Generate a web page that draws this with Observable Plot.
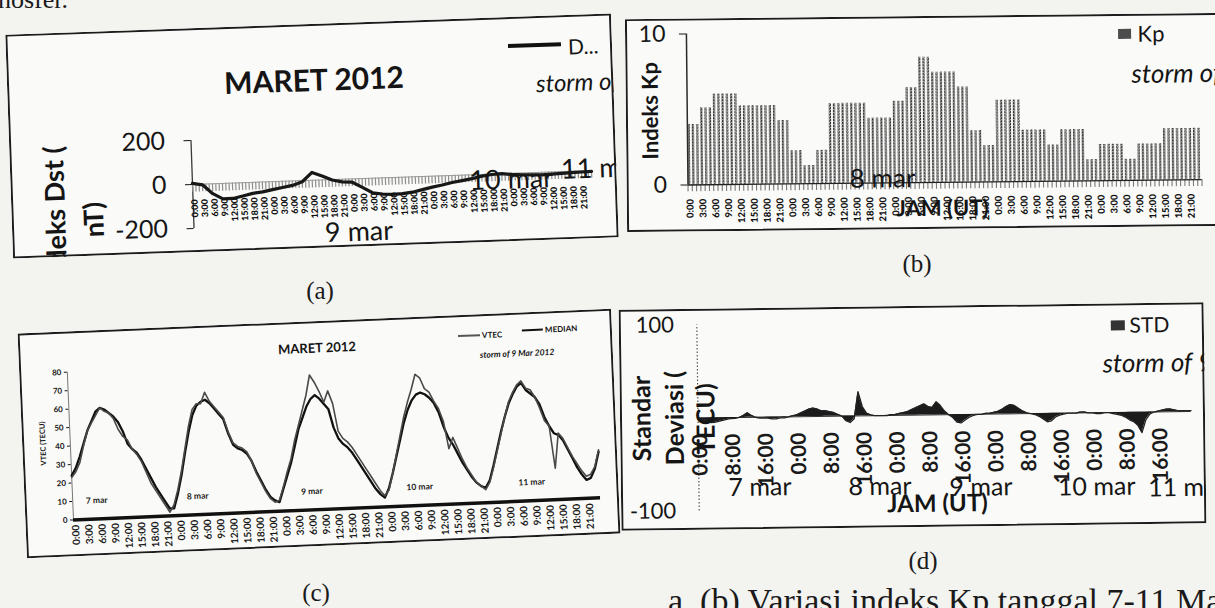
<!DOCTYPE html>
<html><head><meta charset="utf-8">
<script src="https://cdn.jsdelivr.net/npm/d3@7"></script>
<script src="https://cdn.jsdelivr.net/npm/@observablehq/plot@0.6"></script>
<style>
html,body{margin:0;padding:0;}
body{width:1215px;height:608px;overflow:hidden;background:#f3f3f0;position:relative;font-family:Lato,"Open Sans",sans-serif;color:#151515;}
.panel{position:absolute;overflow:hidden;background:#fafaf8;transform-origin:50% 50%;}
.frame{position:absolute;left:0;top:0;right:0;bottom:0;border:2px solid #1c1c1c;pointer-events:none;}
.t{position:absolute;white-space:nowrap;line-height:1;}
.cap{position:absolute;font-family:"Liberation Serif","DejaVu Serif",serif;white-space:nowrap;line-height:1;color:#1a1a1a;}
</style></head><body>
<script>
// ================= DATA =================
const dayLabels = ["7 mar", "8 mar", "9 mar", "10 mar", "11 mar"];
const hourLabels3 = ["0:00", "3:00", "6:00", "9:00", "12:00", "15:00", "18:00", "21:00"];
const hourLabels8 = ["0:00", "8:00", "16:00"];
const dstTicks = [200, 0, -200];
const kpTicks = [0, 10];
const vtecTicks = [0, 10, 20, 30, 40, 50, 60, 70, 80];
const stdTicks = [100, -100];

// Dst (nT), every 3 hours from 7 Mar 0:00 UT
const dstValues = [5, -3, -45, -70, -70, -60, -50, -45, -36, -28, -20, -5, 36, 18, -2, -12, -15, -40, -66, -74,
  -77, -75, -70, -60, -50, -42, -32, -25, -18, -8, -2, 0, -5, -8, -10, -12, -10, -8, -6, -5, -4];

// Kp, 3-hourly (40 intervals, 7-11 Mar)
const kpValues = [4.0, 5.1, 6.0, 6.0, 5.2, 5.2, 5.2, 4.2, 2.2, 1.2,
  2.2, 5.3, 5.3, 5.3, 4.3, 4.3, 5.4, 6.3, 8.3, 7.3,
  7.3, 6.3, 3.4, 2.4, 5.4, 5.4, 3.4, 3.4, 2.4, 3.4,
  3.4, 1.4, 2.4, 2.4, 1.4, 2.4, 2.4, 3.4, 3.4, 3.4];

// VTEC and MEDIAN (TECU), hourly 7 Mar 0:00 .. 12 Mar 0:00
const vtecValues = [
  23, 26, 31, 40, 48, 52, 56, 60, 58, 57, 54, 48, 44, 42, 37, 34, 30, 24, 18, 14, 10, 6, 2, 6,
  14, 24, 36, 48, 57, 60, 60, 66, 61, 58, 55, 52, 44, 38, 36, 35, 33, 28, 21, 16, 11, 7, 5, 6,
  13, 21, 28, 38, 46, 54, 62, 73, 69, 64, 58, 64, 57, 42, 38, 36, 33, 29, 25, 21, 17, 13, 9, 6,
  9, 18, 28, 38, 48, 56, 63, 71, 69, 63, 61, 56, 52, 45, 30, 36, 30, 24, 19, 15, 11, 9, 7, 11,
  19, 28, 37, 46, 54, 59, 63, 65, 61, 60, 56, 50, 43, 40, 17, 36, 33, 28, 23, 19, 15, 12, 13, 17, 26];
const medianValues = [
  24, 28, 34, 41, 48, 53, 58, 60, 59, 57, 55, 52, 47, 40, 37, 35, 31, 26, 21, 16, 12, 8, 4, 4,
  12, 22, 34, 45, 54, 59, 61, 62, 60, 57, 54, 51, 43, 37, 35, 34, 32, 28, 22, 17, 12, 8, 6, 5,
  12, 19, 26, 35, 44, 50, 56, 60, 62, 60, 57, 54, 44, 38, 35, 33, 30, 26, 22, 18, 14, 10, 7, 5,
  10, 18, 27, 36, 45, 52, 57, 60, 61, 60, 58, 55, 50, 42, 36, 32, 27, 22, 18, 14, 11, 9, 8, 12,
  20, 29, 38, 46, 53, 58, 62, 64, 60, 58, 56, 52, 45, 40, 36, 35, 32, 27, 22, 17, 13, 10, 11, 16, 25];

// Standard deviation (TECU), hourly
const stdValues = [
  -1, -3, -4, -5, -5, -4, -3, -2, -1, -1, 0, 2, 5, 2, 0, -1, -1, -1, -2, -2, -1, -1, 0, 1,
  2, 4, 6, 8, 9, 8, 6, 6, 5, 4, 2, 0, -5, -7, -3, 26, 10, 3, 1, 0, 0, 0, 0, 1,
  1, 2, 3, 4, 6, 8, 10, 12, 9, 8, 14, 10, 4, 0, -3, -8, -9, -6, -3, -1, 0, 0, 1, 1,
  2, 3, 5, 8, 10, 9, 6, 3, 1, 0, -1, -3, -6, -9, -8, -4, -2, -1, 0, 0, 0, 1, 1, 0,
  0, -1, -1, 0, 0, -1, -2, -3, -5, -8, -10, -14, -22, -8, -2, 0, 1, 2, 3, 3, 2, 1, 1, 1, 1];

// ================= TABLES =================
const dst = dstValues.map((v, i) => ({h: i * 3, v}));
const kp = d3.range(120).map(h => ({h, v: kpValues[Math.floor(h / 3)]}));
const vtec = vtecValues.map((v, h) => ({h, v}));
const median = medianValues.map((v, h) => ({h, v}));
const std = stdValues.map((v, h) => ({h, v}));
const ticks3 = d3.range(40).map(i => ({h: i * 3, t: hourLabels3[i % 8]}));
const ticks8 = d3.range(15).map(i => ({h: i * 8, t: hourLabels8[i % 3]}));
const hourGrid = d3.range(121);

// ================= LAYOUT =================
const P = {
  a: {cx: 312, cy: 136, w: 606, h: 224, angle: -2.0},
  b: {cx: 924, cy: 122, w: 597, h: 213, angle: -0.6},
  c: {cx: 319, cy: 433, w: 594, h: 225, angle: -2.4},
  d: {cx: 912, cy: 416, w: 585, h: 221, angle: -0.75}
};
function L(p, X, Y) {
  const t = p.angle * Math.PI / 180, dx = X - p.cx, dy = Y - p.cy;
  return [dx * Math.cos(t) + dy * Math.sin(t) + p.w / 2, -dx * Math.sin(t) + dy * Math.cos(t) + p.h / 2];
}
function makePanel(p) {
  const el = document.createElement("div");
  el.className = "panel";
  el.style.left = (p.cx - p.w / 2) + "px";
  el.style.top = (p.cy - p.h / 2) + "px";
  el.style.width = p.w + "px";
  el.style.height = p.h + "px";
  el.style.transform = `rotate(${p.angle}deg)`;
  document.body.appendChild(el);
  p.el = el;
}
function txt(p, X, Y, s, css, anchor = "middle", rot = 0) {
  const [x, y] = L(p, X, Y);
  const el = document.createElement("div");
  el.className = "t";
  el.textContent = s;
  const tx = anchor === "start" ? 0 : anchor === "end" ? -100 : -50;
  el.style.cssText += `left:${x}px;top:${y}px;transform:translate(${tx}%,-50%) rotate(${rot}deg);` + css;
  p.el.appendChild(el);
}
function box(p, X, Y, w, h, css) {
  const [x, y] = L(p, X, Y);
  const el = document.createElement("div");
  el.style.cssText = `position:absolute;left:${x - w / 2}px;top:${y - h / 2}px;width:${w}px;height:${h}px;` + css;
  p.el.appendChild(el);
}
function frameMargins(p, left, right, top, bottom) {
  return {
    marginLeft: L(p, ...left)[0],
    marginRight: p.w - L(p, ...right)[0],
    marginTop: L(p, ...top)[1],
    marginBottom: p.h - L(p, ...bottom)[1]
  };
}
function mount(p, svg) {
  svg.style.position = "absolute";
  svg.style.left = "0px";
  svg.style.top = "0px";
  p.el.appendChild(svg);
}
function cap(s, X, Y, css) {
  const el = document.createElement("div");
  el.className = "cap";
  el.textContent = s;
  el.style.cssText += `left:${X}px;top:${Y}px;transform:translate(-50%,-50%);` + css;
  document.body.appendChild(el);
}
Object.values(P).forEach(makePanel);

// ================= (a) Dst =================
{
  const p = P.a;
  const m = frameMargins(p, [192, 184], [591, 170], [192, 140], [192, 228]);
  const svg = Plot.plot({
    width: p.w, height: p.h, ...m,
    x: {domain: [0, 120], axis: null},
    y: {domain: [-200, 200], axis: null},
    style: {background: "transparent", fontFamily: "Lato", fontSize: "25px", overflow: "visible", color: "#151515"},
    marks: [
      Plot.axisY({ticks: dstTicks, tickSize: 7, tickPadding: 19, fontSize: 25, tickFormat: d => String(d), label: null}),
      Plot.ruleX([0], {y1: -200, y2: 200, stroke: "#3a3a3a", strokeWidth: 1.3}),
      Plot.ruleX(hourGrid, {x: d => d, y1: 0, y2: -35, stroke: "#8e8e8e", strokeWidth: 1.2}),
      Plot.ruleY([0], {x1: 0, x2: 120, stroke: "#9a9a9a", strokeWidth: 1}),
      Plot.line(dst, {x: "h", y: "v", stroke: "#181818", strokeWidth: 3.2}),
      Plot.text(ticks3, {x: d => d.h + 0.5, y: 0, text: "t", rotate: -90, textAnchor: "end", lineAnchor: "middle", dy: 15, fontSize: 9, fontWeight: 900, fill: "#111"})
    ]
  });
  mount(p, svg);
  txt(p, 314, 79, "MARET 2012", "font-size:30px;font-weight:700;");
  box(p, 534.5, 45, 53, 4, "background:#111;");
  txt(p, 568, 46, "D...", "font-size:21px;", "start");
  txt(p, 536, 83, "storm of 9 Mar 2012", "font-size:24px;font-style:italic;", "start");
  txt(p, 55, 217, "Indeks Dst (", "font-size:27px;font-weight:700;", "middle", -90);
  txt(p, 93, 220, "nT)", "font-size:27px;font-weight:700;", "middle", -90);
  txt(p, 325, 232, dayLabels[2], "font-size:27px;", "start");
  txt(p, 553, 177, dayLabels[3], "font-size:27px;", "end");
  txt(p, 561, 168, dayLabels[4], "font-size:27px;", "start");
}

// ================= (b) Kp =================
{
  const p = P.b;
  const m = frameMargins(p, [687, 184], [1201, 179], [687, 33], [687, 184]);
  const svg = Plot.plot({
    width: p.w, height: p.h, ...m,
    x: {domain: [0, 120], axis: null},
    y: {domain: [0, 10], axis: null},
    style: {background: "transparent", fontFamily: "Lato", fontSize: "23px", overflow: "visible", color: "#151515"},
    marks: [
      Plot.axisY({ticks: kpTicks, tickSize: 7, tickPadding: 14, fontSize: 23, tickFormat: d => String(d), label: null}),
      Plot.rectY(kp, {x1: d => d.h + 0.12, x2: d => d.h + 0.68, y: "v", fill: "url(#kphatch)"}),
      Plot.ruleX([0], {y1: 0, y2: 10, stroke: "#2a2a2a", strokeWidth: 1.5}),
      Plot.ruleX(hourGrid, {x: d => d, y1: 0, y2: -0.45, stroke: "#7a7a7a", strokeWidth: 1.1}),
      Plot.ruleY([0], {x1: 0, x2: 120, stroke: "#222", strokeWidth: 1.3}),
      Plot.text(ticks3, {x: d => d.h + 0.5, y: 0, text: "t", rotate: -90, textAnchor: "end", lineAnchor: "middle", dy: 14, fontSize: 9.5, fontWeight: 900, fill: "#111"})
    ]
  });
  const defs = document.createElementNS("http://www.w3.org/2000/svg", "defs");
  defs.innerHTML = `<pattern id="kphatch" width="3" height="3" patternUnits="userSpaceOnUse">
    <rect width="3" height="3" fill="#b0b0b0"/><rect x="0" y="0" width="1.3" height="2" fill="#2e2e2e"/>
    <rect x="1.7" y="1.2" width="1.3" height="1.6" fill="#5a5a5a"/></pattern>`;
  svg.insertBefore(defs, svg.firstChild);
  mount(p, svg);
  txt(p, 649, 110, "Indeks Kp", "font-size:22px;font-weight:700;", "middle", -90);
  box(p, 1124.5, 33, 13, 10, "background:#4d4d4d;");
  txt(p, 1137, 33, "Kp", "font-size:22px;", "start");
  txt(p, 1131, 72, "storm of 9 Mar 2012", "font-size:26px;font-style:italic;", "start");
  txt(p, 882, 177, dayLabels[1], "font-size:26px;");
  txt(p, 942, 207, "JAM (UT)", "font-size:22px;font-weight:700;");
}

// ================= (c) VTEC =================
{
  const p = P.c;
  const dayStartC = [3, 26, 52, 76, 101.5];
  const m = frameMargins(p, [73, 519], [600, 497], [72, 371], [72, 519]);
  const svg = Plot.plot({
    width: p.w, height: p.h, ...m,
    x: {domain: [0, 120], axis: null},
    y: {domain: [0, 80], axis: null},
    style: {background: "transparent", fontFamily: "Lato", fontSize: "8px", fontWeight: "bold", overflow: "visible", color: "#151515"},
    marks: [
      Plot.axisY({ticks: vtecTicks, tickSize: 3, tickPadding: 3, fontSize: 8, fontWeight: "bold", tickFormat: d => String(d), label: null}),
      Plot.ruleX([0], {y1: 0, y2: 80, stroke: "#777", strokeWidth: 1}),
      Plot.line(median, {x: "h", y: "v", stroke: "#111", strokeWidth: 2.3}),
      Plot.line(vtec, {x: "h", y: "v", stroke: "#4a4a4a", strokeWidth: 1.6}),
      Plot.ruleY([0], {x1: 0, x2: 120, stroke: "#111", strokeWidth: 3.5}),
      Plot.text(ticks3, {x: d => d.h + 0.5, y: 0, text: "t", rotate: -90, textAnchor: "end", lineAnchor: "middle", dy: 5, fontSize: 10, fontWeight: "bold", fill: "#1a1a1a"}),
      Plot.text(dayLabels, {x: (d, i) => dayStartC[i], y: 10, text: d => d, textAnchor: "start", fontSize: 8.5, fontWeight: "bold", fill: "#1a1a1a"})
    ]
  });
  mount(p, svg);
  txt(p, 317, 348, "MARET 2012", "font-size:13px;font-weight:700;");
  box(p, 469, 335, 22, 1.6, "background:#555;");
  txt(p, 482, 335, "VTEC", "font-size:8px;font-weight:700;", "start");
  box(p, 532.5, 329, 21, 2, "background:#111;");
  txt(p, 545, 329, "MEDIAN", "font-size:8px;font-weight:700;", "start");
  txt(p, 480, 355, "storm of 9 Mar 2012", "font-size:8.5px;font-style:italic;font-weight:700;", "start");
  txt(p, 43, 443, "VTEC (TECU)", "font-size:7.5px;font-weight:700;", "middle", -90);
}

// ================= (d) STD =================
{
  const p = P.d;
  const dayEndD = [791, 911, 1012, 1135, 1225];
  const m = frameMargins(p, [697, 414], [1190, 407.5], [697, 324], [697, 510]);
  const svg = Plot.plot({
    width: p.w, height: p.h, ...m,
    x: {domain: [0, 120], axis: null},
    y: {domain: [-100, 100], axis: null},
    style: {background: "transparent", fontFamily: "Lato", fontSize: "22px", overflow: "visible", color: "#151515"},
    marks: [
      Plot.axisY({ticks: stdTicks, tickSize: 0, tickPadding: 23, fontSize: 22, tickFormat: d => String(d), label: null}),
      Plot.ruleX([0], {y1: -100, y2: 100, stroke: "#555", strokeWidth: 1.2, strokeDasharray: "1.5,2"}),
      Plot.ruleY([0], {x1: 0, x2: 120, stroke: "#333", strokeWidth: 1}),
      Plot.areaY(std, {x: "h", y: "v", fill: "#1b1b1b"}),
      Plot.line(std, {x: "h", y: "v", stroke: "#222", strokeWidth: 1.3}),
      Plot.text(ticks8, {x: d => d.h + 0.5, y: 0, text: "t", rotate: -90, textAnchor: "end", lineAnchor: "middle", dy: 16, fontSize: 21, fontWeight: "bold", fill: "#1a1a1a"})
    ]
  });
  mount(p, svg);
  txt(p, 641, 418, "Standar", "font-size:25px;font-weight:700;", "middle", -90);
  txt(p, 674, 418, "Deviasi (", "font-size:25px;font-weight:700;", "middle", -90);
  txt(p, 705, 418, "TECU)", "font-size:25px;font-weight:700;", "middle", -90);
  box(p, 1117, 325, 14, 10, "background:#333;");
  txt(p, 1129, 324, "STD", "font-size:21px;", "start");
  txt(p, 1102, 362, "storm of 9 Mar 2012", "font-size:26px;font-style:italic;", "start");
  dayLabels.forEach((s, i) => txt(p, dayEndD[i], 485, s, "font-size:25px;", "end"));
  txt(p, 937, 502, "JAM (UT)", "font-size:24px;font-weight:700;");
}

// frames on top
Object.values(P).forEach(p => { const f = document.createElement("div"); f.className = "frame"; p.el.appendChild(f); });

// ================= page text =================
cap("(a)", 320, 290, "font-size:25px;");
cap("(b)", 917, 263, "font-size:25px;");
cap("(c)", 316, 592, "font-size:25px;");
cap("(d)", 923, 560, "font-size:25px;");
{
  const top = document.createElement("div");
  top.className = "cap";
  top.textContent = "hosfer.";
  top.style.cssText += "left:-2px;top:-13px;font-size:26px;";
  document.body.appendChild(top);
  const bot = document.createElement("div");
  bot.className = "cap";
  bot.textContent = "a. (b) Variasi indeks Kp tanggal 7-11 Maret 2012";
  bot.style.cssText += "left:668px;top:584px;font-size:34px;";
  document.body.appendChild(bot);
}
</script>
</body></html>
